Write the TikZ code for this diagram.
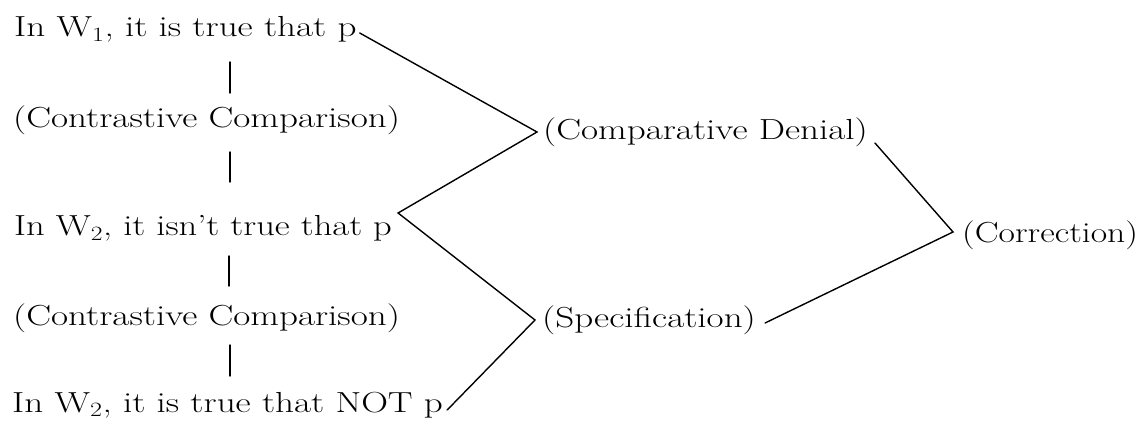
\documentclass[tikz,border=0pt]{standalone}
\usepackage{fontspec}
\usepackage{graphicx}
\usetikzlibrary{calc}
\tikzset{
  lbl/.style={inner xsep=0pt, inner ysep=0pt, anchor=base west, font=\fontsize{29}{34}\selectfont},
  ln/.style={line width=1.4pt, line cap=round, line join=miter},
}
\newcommand{\sx}[1]{\scalebox{1.28}[1]{#1}}
\begin{document}
\begin{tikzpicture}[x=1pt,y=-1pt]
\useasboundingbox (0,0) rectangle (1141,430);
\node[lbl] (r1) at (14,37) {\sx{In W\textsubscript{1}, it is true that p}};
\node[lbl] (r2) at (13,128) {\sx{(Contrastive Comparison)}};
\node[lbl] (r3) at (14,236) {\scalebox{1.26}[1]{In W\textsubscript{2}, it isn't true that p}};
\node[lbl] (r4) at (13,326) {\sx{(Contrastive Comparison)}};
\node[lbl] (r5) at (12,412) {\sx{In W\textsubscript{2}, it is true that NOT p}};
\node[lbl] (cd) at (543,140) {\sx{(Comparative Denial)}};
\node[lbl] (sp) at (542,328) {\sx{(Specification)}};
\node[lbl] (co) at (962,243) {\scalebox{1.23}[1]{(Correction)}};
% apexes
\coordinate (a1) at ($(cd.base west)+(-6,-8)$);
\coordinate (a2) at ($(sp.base west)+(-7,-8)$);
\coordinate (a3) at ($(r3.base east)+(6,-23)$);
\coordinate (a4) at ($(co.base west)+(-9,-11)$);
\coordinate (bx) at (230,0);
% vertical bars
\draw[ln] ($(bx |- r1.base)+(0,25)$) -- ($(bx |- r1.base)+(0,56)$);
\draw[ln] ($(bx |- r2.base)+(0,24)$) -- ($(bx |- r2.base)+(0,54)$);
\draw[ln] ($(bx |- r3.base)+(-1,20)$) -- ($(bx |- r3.base)+(-1,50)$);
\draw[ln] ($(bx |- r4.base)+(0,19)$) -- ($(bx |- r4.base)+(0,50)$);
% diagonal connectors
\draw[ln] ($(r1.base east)+(3,-4)$) -- (a1) -- (a3) -- (a2) -- ($(r5.base east)+(4,-2)$);
\draw[ln] ($(cd.base east)+(7,3)$) -- (a4) -- ($(sp.base east)+(9,-5)$);
\end{tikzpicture}
\end{document}
